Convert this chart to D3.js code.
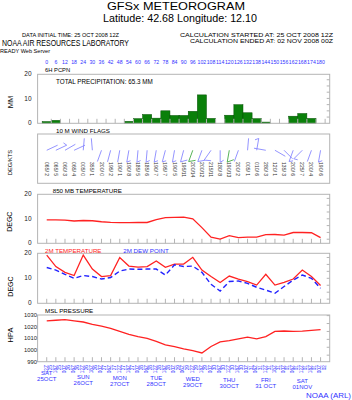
<!DOCTYPE html>
<html><head><meta charset="utf-8">
<script src="https://cdn.jsdelivr.net/npm/d3@7/dist/d3.min.js"></script>
<style>body{margin:0;background:#fff}svg{display:block;font-family:"Liberation Sans",Arial,sans-serif}</style>
</head><body><svg id="c" width="352" height="400"></svg>
<script>
// ---- data ----
const hourLabels=[0,6,12,18,24,30,36,42,48,54,60,66,72,78,84,90,96,102,108,114,120,126,132,138,144,150,156,162,168,174,180];
const timeHours=["12Z","18Z","00Z","06Z","12Z","18Z","00Z","06Z","12Z","18Z","00Z","06Z","12Z","18Z","00Z","06Z","12Z","18Z","00Z","06Z","12Z","18Z","00Z","06Z","12Z","18Z","00Z","06Z","12Z","18Z","00Z"];
const timeDays=["25","25","26","26","26","26","27","27","27","27","28","28","28","28","29","29","29","29","30","30","30","30","31","31","31","31","01","01","01","01","02"];
const dayNames=["SAT","SUN","MON","TUE","WED","THU","FRI","SAT"];
const dayDates=["25OCT","26OCT","27OCT","28OCT","29OCT","30OCT","31 OCT","01NOV"];
const dayIndex=[0,4,8,12,16,20,24,28];
const precip=[0.7,1.2,0,0,0,0,0,0,0,0.8,1.9,3.6,2.1,5.1,3.2,3.2,4.9,11.6,2.0,0,3.3,7.6,4.3,1.9,0.5,0,0,2.9,4.0,2.0,0];
const windDir=[65,65,60,65,5,355,200,195,190,190,185,185,190,195,190,195,200,200,215,180,190,200,5,10,280,120,135,200,225,200,190];
const windSpd=[2,5,3,4,0,1,0,2,1,8,5,6,7,7,5,11,14,12,11,8,13,2,1,6,3,1,3,6,7,4,6];
const t850=[9.6,9.6,9.5,9.1,9.3,9.2,8.8,8.5,8.4,8.4,8.5,8.5,9.7,10.5,10.6,10.7,10.0,6.4,2.5,1.7,3.1,2.3,2.5,2.5,3.5,3.6,3.3,4.4,4.4,4.3,2.3];
const t2m=[19.3,14.7,12.4,11.1,19.3,13.7,10.7,11.1,18.3,14.9,14.5,14.7,16.9,14.4,15.7,15.7,18.4,13.3,10.7,8.3,10.9,9.7,8.7,7.3,11.6,7.3,8.4,9.7,13.3,10.7,7.1];
const dew=[14.3,13.3,11.6,10.0,11.1,10.7,9.7,10.3,12.9,13.7,13.6,13.7,13.7,11.3,15.4,14.7,14.9,12.4,7.6,4.9,8.7,8.9,8.0,6.4,5.3,4.0,6.7,9.3,11.3,10.0,6.0];
const slp=[1025,1025.5,1026,1025,1024,1022,1020.5,1018.5,1016,1013.5,1011.5,1010,1007.5,1004.5,1003,1001,999.5,997.5,1003,1007,1008,1009.5,1011,1009.5,1011.5,1016,1016.3,1016,1016.2,1016.8,1017.5];
const tempTicks=[0,10,20], precipTicks=[0,10,20], slpTicks=[990,1000,1010,1020,1030];
const inchTicks=[0.1,0.2,0.3,0.4,0.5,0.6,0.7], fTicks=[35,40,45,50,55,60,65], inHgTicks=[29.4,29.6,29.8,30.0,30.2,30.4];

// ---- drawing ----
const svg=d3.select("#c");
const BLUE="#3333ff", RED="#ff2222", FRAME="#b4b4b4";
const n=hourLabels.length, idx=d3.range(n);
const x=d3.scaleLinear().domain([-1,n]).range([37.6,329.7]);
const L=x(-1), R=x(n);

function txt(t,px,py,o={}){
  const e=svg.append("text").attr("x",px).attr("y",py).text(t)
    .attr("font-size",o.fs||6).attr("fill",o.fill||"#000")
    .attr("text-anchor",o.anchor||"start");
  if(o.len) e.attr("textLength",o.len).attr("lengthAdjust","spacingAndGlyphs");
  if(o.rot!==undefined) e.attr("transform",`rotate(${o.rot},${px},${py})`);
  return e;
}
function panel(y,ticksL,labelX,fs,right,rightConv){
  const [b,t]=y.range();
  svg.append("rect").attr("x",L).attr("y",t).attr("width",R-L).attr("height",b-t)
    .attr("fill","none").attr("stroke",FRAME).attr("stroke-width",1);
  ticksL.forEach(v=>txt(v,labelX,y(v)+2,{fs:fs,anchor:"end",fill:"#222"}));
  if(right) right.forEach(v=>{const yy=y(rightConv(v));
    svg.append("line").attr("x1",R-3).attr("x2",R).attr("y1",yy).attr("y2",yy).attr("stroke",FRAME);});
}
function bottomTicks(y,offset){
  const b=y.range()[0];
  idx.forEach(i=>svg.append("line").attr("x1",x(i+offset)).attr("x2",x(i+offset))
    .attr("y1",b).attr("y2",b-4.5).attr("stroke",FRAME));
}

// titles
txt("GFSx METEOROGRAM",176,9.5,{fs:11.5,anchor:"middle",len:138});
txt("Latitude: 42.68 Longitude:  12.10",180,21.5,{fs:10,anchor:"middle",len:154});
txt("DATA INITIAL TIME: 25 OCT 2008 12Z",22,36.5,{fs:5.5,len:97});
txt("CALCULATION STARTED AT: 25 OCT 2008 12Z",180,36.5,{fs:5.5,len:153});
txt("CALCULATION ENDED AT: 02 NOV 2008 00Z",190,42.5,{fs:5.5,len:143});
txt("NOAA AIR RESOURCES LABORATORY",2,45.5,{fs:8.5,len:127});
txt("READY Web Server",0,52.5,{fs:5.5,len:50});

// top hour labels
hourLabels.forEach((h,i)=>txt(h,x(i),63.5,{fs:5.2,anchor:"middle",fill:BLUE}));

// precipitation
const yP=d3.scaleLinear().domain([0,20]).range([123.3,74.3]);
svg.append("g").selectAll("rect").data(precip).join("rect")
  .attr("x",(d,i)=>x(i-0.5)).attr("width",x(1)-x(0))
  .attr("y",d=>yP(d)).attr("height",d=>yP(0)-yP(d))
  .attr("fill","#0a800a").attr("stroke","#055005").attr("stroke-width",0.5)
  .attr("display",d=>d>0?null:"none");
panel(yP,precipTicks,31.5,6.5,inchTicks,v=>v*25.4);
bottomTicks(yP,0.5);
txt("6H PCPN",45,72.3,{fs:5.8});
txt("TOTAL PRECIPITATION:  65.3 MM",56,84.3,{fs:6.5,len:96.7});
txt("MM",12.5,102,{fs:7.5,anchor:"middle",rot:-90});

// wind flags
const yW=d3.scaleLinear().domain([0,1]).range([183.3,134]);
panel(yW,[],31.5,6.5,null);
txt("10 M  WIND FLAGS",56,132.8,{fs:6.2});
txt("DEG/KTS",11.5,162.5,{fs:5.8,anchor:"middle",rot:-90});
const stationY=yW(0.67), staff=12;
idx.forEach(i=>{
  const d=windDir[i]*Math.PI/180, s=windSpd[i];
  const col=s>=13?"#44aa44":"#8888ff";
  const sx=x(i), sy=stationY;
  const ux=Math.sin(d), uy=-Math.cos(d);
  const ex=sx+ux*staff, ey=sy+uy*staff;
  const g=svg.append("g").attr("stroke",col).attr("stroke-width",0.9).attr("fill","none");
  g.append("line").attr("x1",sx).attr("y1",sy).attr("x2",ex).attr("y2",ey);
  const a=-120*Math.PI/180;
  const bx=ux*Math.cos(a)-uy*Math.sin(a), by=ux*Math.sin(a)+uy*Math.cos(a);
  let rem=s, pos=0;
  while(rem>=10){const px=ex-ux*pos, py=ey-uy*pos;
    g.append("line").attr("x1",px).attr("y1",py).attr("x2",px+bx*7).attr("y2",py+by*7); rem-=10; pos+=2.5;}
  if(rem>=5){const px=ex-ux*pos, py=ey-uy*pos;
    g.append("line").attr("x1",px).attr("y1",py).attr("x2",px+bx*4).attr("y2",py+by*4);}
  const lab=String(windDir[i]).padStart(3,"0")+"/"+String(s).padStart(2," ");
  txt(lab,sx-2,yW(0.43),{fs:5,rot:90,fill:"#333"}).attr("xml:space","preserve");
});

// 850 mb temperature
const y850=d3.scaleLinear().domain([0,20]).range([243.3,194.3]);
panel(y850,tempTicks,31.5,6.5,fTicks,f=>(f-32)*5/9);
bottomTicks(y850,0);
svg.append("path").datum(t850).attr("fill","none").attr("stroke",RED).attr("stroke-width",1.3)
  .attr("d",d3.line().x((d,i)=>x(i)).y(d=>y850(d)));
txt("850 MB  TEMPERATURE",52.7,193.3,{fs:6.2});
txt("DEGC",12.5,221.7,{fs:7,anchor:"middle",rot:-90});

// 2m temperature & dew point
const y2=d3.scaleLinear().domain([0,20]).range([303.3,253.3]);
panel(y2,tempTicks,31.5,6.5,fTicks,f=>(f-32)*5/9);
bottomTicks(y2,0);
svg.append("path").datum(t2m).attr("fill","none").attr("stroke",RED).attr("stroke-width",1.3)
  .attr("d",d3.line().x((d,i)=>x(i)).y(d=>y2(d)));
svg.append("path").datum(dew).attr("fill","none").attr("stroke","#2222ff").attr("stroke-width",1.4)
  .attr("stroke-dasharray","5,3").attr("d",d3.line().x((d,i)=>x(i)).y(d=>y2(d)));
txt("2M TEMPERATURE",45,253,{fs:6.2,fill:RED});
txt("2M  DEW POINT",123.3,253,{fs:6.2,fill:BLUE});
txt("DEGC",12.5,286.5,{fs:7,anchor:"middle",rot:-90});

// MSL pressure
const yS=d3.scaleLinear().domain([990,1030]).range([361.7,315]);
panel(yS,slpTicks,37,5.8,inHgTicks,v=>v*33.8639);
bottomTicks(yS,0);
svg.append("path").datum(slp).attr("fill","none").attr("stroke",RED).attr("stroke-width",1.3)
  .attr("d",d3.line().x((d,i)=>x(i)).y(d=>yS(d)));
txt("MSL PRESSURE",45,313.3,{fs:6.2});
txt("HPA",12.5,335,{fs:7.5,anchor:"middle",rot:-90});

// bottom time labels
idx.forEach(i=>{
  txt(timeHours[i],x(i)+0.8,365,{fs:4.8,anchor:"end",rot:-90,fill:BLUE});
  txt(timeDays[i],x(i)+5,365,{fs:4.8,anchor:"end",rot:-90,fill:BLUE});
});
dayNames.forEach((d,k)=>{
  const cx=x(dayIndex[k]), by=k===0?374.5:378.5+k*0.6;
  txt(d,cx,by,{fs:6,anchor:"middle",fill:BLUE});
  txt(dayDates[k],cx,by+6,{fs:6,anchor:"middle",fill:BLUE});
});
txt("NOAA (ARL)",351,397.5,{fs:8,anchor:"end",fill:BLUE,len:45});
</script></body></html>
